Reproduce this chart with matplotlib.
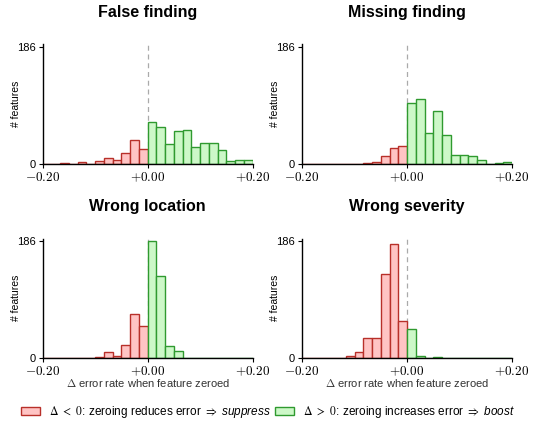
import numpy as np
import matplotlib
matplotlib.use("Agg")
import matplotlib.pyplot as plt
from matplotlib.patches import Patch
from matplotlib.font_manager import FontProperties

plt.rcParams['font.family'] = ['Liberation Sans', 'DejaVu Sans']
plt.rcParams['mathtext.fontset'] = 'cm'
plt.rcParams['mathtext.rm'] = 'STIXGeneral'
plt.rcParams['mathtext.it'] = 'Liberation Sans:italic'
plt.rcParams['mathtext.fallback'] = 'cm'

titles = ["False finding", "Missing finding", "Wrong location", "Wrong severity"]
bin_lo, bin_hi, n_bins = -0.20, 0.20, 24
# counts per bin, from -0.20 to +0.20 (24 bins)
false_finding = [0, 0, 1, 0, 3, 0, 4, 10, 7, 17, 38, 24,
                 66, 59, 32, 52, 54, 27, 34, 34, 22, 5, 7, 7]
missing_finding = [0, 0, 0, 0, 0, 0, 0, 1, 3, 12, 26, 28,
                   97, 103, 49, 84, 46, 15, 15, 12, 7, 0, 1, 3]
wrong_location = [0, 0, 0, 0, 0, 0, 1, 9, 3, 20, 69, 51,
                  186, 130, 19, 10, 0, 0, 0, 0, 0, 0, 0, 0]
wrong_severity = [0, 0, 0, 0, 0, 2, 9, 32, 31, 133, 181, 59,
                  46, 2, 0, 1, 0, 0, 0, 0, 0, 0, 0, 0]
panels = [false_finding, missing_finding, wrong_location, wrong_severity]
y_max = 186
xticks = [-0.20, 0.00, 0.20]
xtick_labels = [r"$-0.20$", r"$+0.00$", r"$+0.20$"]
legend_labels = [r"$\Delta\ <\ 0$: zeroing reduces error $\Rightarrow$ $\mathit{suppress}$",
                 r"$\Delta\ >\ 0$: zeroing increases error $\Rightarrow$ $\mathit{boost}$"]

red_fill, red_edge = "#ffc4c4", "#b8302a"
green_fill, green_edge = "#cdf8c8", "#2f9a2f"

W, H = 536, 428
fig = plt.figure(figsize=(W / 100, H / 100), dpi=100)

pos = [(42.7, 44.5, 164.0), (302.0, 44.5, 164.0),
       (42.7, 238.5, 357.7), (302.0, 238.5, 357.7)]
edges = np.linspace(bin_lo, bin_hi, n_bins + 1)
bw = edges[1] - edges[0]
for i, (title, counts) in enumerate(zip(titles, panels)):
    x0, ytop, ybot = pos[i]
    ax = fig.add_axes([x0 / W, 1 - ybot / H, 210 / W, (ybot - ytop) / H])
    counts = np.array(counts)
    lefts = edges[:-1]
    neg = lefts < 0
    ax.bar(lefts[neg], counts[neg], width=bw, align='edge', color=red_fill,
           edgecolor=red_edge, linewidth=1.0)
    ax.bar(lefts[~neg], counts[~neg], width=bw, align='edge', color=green_fill,
           edgecolor=green_edge, linewidth=1.0)
    ax.axvline(0, color="#aaaaaa", ls=(0, (4, 3)), lw=0.9, zorder=0)
    ax.set_xlim(bin_lo, bin_hi)
    ax.set_ylim(0, y_max * 1.02)
    ax.set_yticks([0, y_max])
    ax.set_yticklabels(["0", str(y_max)], fontsize=8)
    ax.set_xticks(xticks)
    ax.set_xticklabels(xtick_labels,
                       fontproperties=FontProperties(size=9.5, math_fontfamily='cm'))
    ax.tick_params(axis='both', length=3, width=0.8, pad=2)
    for s in ["top", "right"]:
        ax.spines[s].set_visible(False)
    for s in ["left", "bottom"]:
        ax.spines[s].set_linewidth(1.0)
    ax.set_ylabel("# features", fontsize=7.5)
    ax.yaxis.set_label_coords(-0.105, 0.5)
    ax.set_title(title, fontsize=11.5, fontweight='bold', pad=20)
    if i >= 2:
        ax.set_xlabel(r"$\Delta$ error rate when feature zeroed",
                      fontproperties=FontProperties(size=8, math_fontfamily='cm'),
                      labelpad=-0.5, color="#333333")

handles = [Patch(facecolor=red_fill, edgecolor=red_edge, lw=1.0),
           Patch(facecolor=green_fill, edgecolor=green_edge, lw=1.0)]
fig.legend(handles, legend_labels, loc='center', bbox_to_anchor=(0.5, 1 - 412 / H),
           ncol=2, frameon=False, handlelength=1.6, handletextpad=0.8,
           columnspacing=0.3,
           prop=FontProperties(size=8.5, math_fontfamily='custom'))

fig.savefig("out.png", dpi=100)
